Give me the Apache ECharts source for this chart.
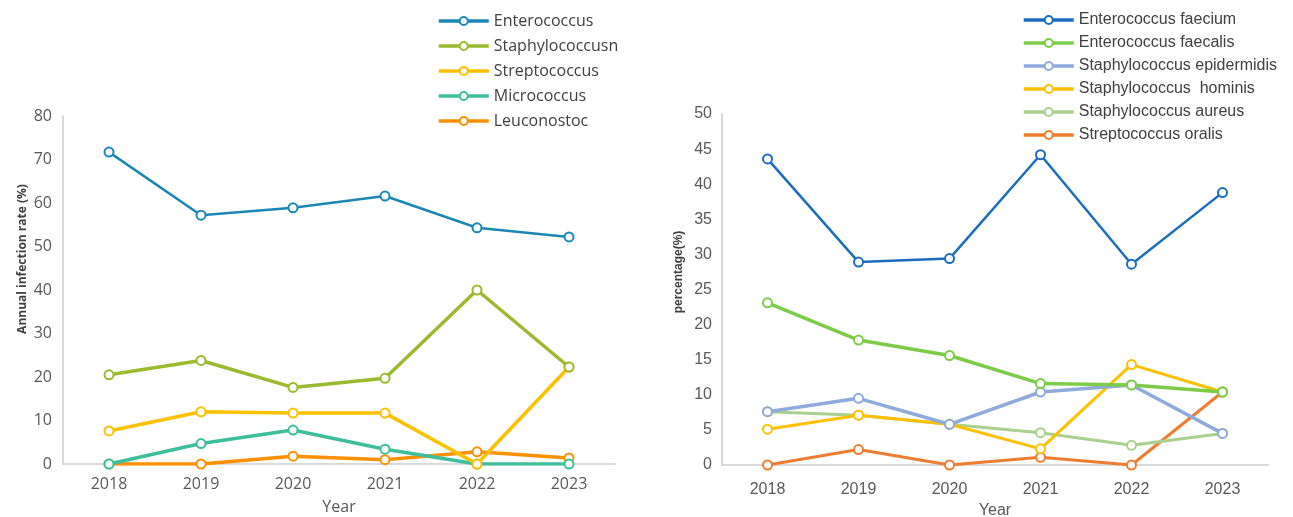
<!DOCTYPE html>
<html><head><meta charset="utf-8">
<script src="https://cdn.jsdelivr.net/npm/echarts@6/dist/echarts.min.js"></script>
<style>html,body{margin:0;padding:0;background:#fff}#c{width:1293px;height:517px}</style>
</head><body><div id="c"></div>
<script>
const years = ['2018','2019','2020','2021','2022','2023'];

const leftNames = ['Enterococcus','Staphylococcusn','Streptococcus','Micrococcus','Leuconostoc'];
const enterococcus   = [71.7, 57.2, 58.9, 61.6, 54.3, 52.2];
const staphylococcus = [20.5, 23.8, 17.6, 19.7, 40.0, 22.3];
const streptococcus  = [7.6, 12.0, 11.7, 11.7, 0.0, 22.3];
const micrococcus    = [0.0, 4.7, 7.8, 3.4, 0.0, 0.0];
const leuconostoc    = [0.0, 0.0, 1.8, 1.0, 2.8, 1.4];

const rightNames = ['Enterococcus faecium','Enterococcus faecalis','Staphylococcus epidermidis','Staphylococcus  hominis','Staphylococcus aureus','Streptococcus oralis'];
const eFaecium     = [43.6, 28.9, 29.4, 44.2, 28.6, 38.8];
const eFaecalis    = [23.1, 17.8, 15.6, 11.6, 11.4, 10.4];
const sEpidermidis = [7.6, 9.5, 5.8, 10.4, 11.4, 4.5];
const sHominis     = [5.1, 7.1, 5.8, 2.3, 14.3, 10.4];
const sAureus      = [7.6, 7.1, 5.8, 4.6, 2.8, 4.5];
const sOralis      = [0.0, 2.2, 0.0, 1.1, 0.0, 10.4];

const leftTicks = {min:0, max:80, interval:10};
const rightTicks = {min:0, max:50, interval:5};

const leftColors = ['#1b87b5','#9cba2d','#ffc000','#3dbf9c','#ff9000'];
const rightColors = ['#1c6cc0','#7dcc48','#8faadc','#ffc000','#a9d18e','#ed7d31'];

const leftData = [enterococcus, staphylococcus, streptococcus, micrococcus, leuconostoc];
const rightData = [eFaecium, eFaecalis, sEpidermidis, sHominis, sAureus, sOralis];

const fL = 'Open Sans, Noto Sans, sans-serif';
const fR = 'Liberation Sans, Arial, sans-serif';

function mk(names, data, colors, idx, widths){
  return names.map((n,i)=>({
    name:n, type:'line', xAxisIndex:idx, yAxisIndex:idx, data:data[i],
    symbol:'emptyCircle', symbolSize:9, z: 10 - i,
    lineStyle:{color:colors[i], width:widths[i]},
    itemStyle:{color:colors[i], borderColor:colors[i], borderWidth:2},
    emphasis:{disabled:true}
  }));
}

const chart = echarts.init(document.getElementById('c'));
chart.setOption({
  animation:false,
  grid:[
    {left:63, top:116, width:552, height:348, outerBoundsMode:'none', containLabel:false},
    {left:722, top:114, width:546, height:351, outerBoundsMode:'none', containLabel:false}
  ],
  legend:[
    {data:leftNames, orient:'vertical', left:432, top:8, itemWidth:50, itemHeight:10, itemGap:9,
     lineStyle:{width:3.5}, itemStyle:{borderWidth:2},
     textStyle:{fontFamily:fL, fontSize:16, color:'#404040'}},
    {data:rightNames, orient:'vertical', left:1017, top:7, itemWidth:50, itemHeight:10, itemGap:7,
     lineStyle:{width:3.5}, itemStyle:{borderWidth:2},
     textStyle:{fontFamily:fR, fontSize:16, color:'#404040'}}
  ],
  xAxis:[
    {type:'category', gridIndex:0, data:years, boundaryGap:true,
     axisLine:{lineStyle:{color:'#d9d9d9', width:2}}, axisTick:{show:false},
     axisLabel:{fontFamily:fL, fontSize:16, color:'#595959', margin:12},
     name:'Year', nameLocation:'middle', nameGap:35, nameTextStyle:{fontFamily:fL, fontSize:16, color:'#595959'}},
    {type:'category', gridIndex:1, data:years, boundaryGap:true,
     axisLine:{lineStyle:{color:'#d9d9d9', width:2}}, axisTick:{show:false},
     axisLabel:{fontFamily:fR, fontSize:16, color:'#595959', margin:17},
     name:'Year', nameLocation:'middle', nameGap:38, nameTextStyle:{fontFamily:fR, fontSize:16, color:'#595959'}}
  ],
  yAxis:[
    {type:'value', gridIndex:0, min:leftTicks.min, max:leftTicks.max, interval:leftTicks.interval,
     splitLine:{show:false}, axisLine:{show:true, lineStyle:{color:'#d9d9d9', width:2}}, axisTick:{show:false},
     axisLabel:{fontFamily:fL, fontSize:16, color:'#595959', margin:11},
     name:'Annual infection rate (%)', nameLocation:'middle', nameGap:34,
     nameTextStyle:{fontFamily:fL, fontSize:12, fontWeight:'bold', color:'#404040', padding:[0,0,0,62]}},
    {type:'value', gridIndex:1, min:rightTicks.min, max:rightTicks.max, interval:rightTicks.interval,
     splitLine:{show:false}, axisLine:{show:true, lineStyle:{color:'#d9d9d9', width:2}}, axisTick:{show:false},
     axisLabel:{fontFamily:fR, fontSize:16, color:'#595959', margin:10},
     name:'percentage(%)', nameLocation:'middle', nameGap:37,
     nameTextStyle:{fontFamily:fR, fontSize:12, fontWeight:'bold', color:'#404040', padding:[0,0,0,35]}}
  ],
  series:[].concat(
    mk(leftNames, leftData, leftColors, 0, [2.5,3.5,3.5,3.5,3.5]),
    mk(rightNames, rightData, rightColors, 1, [2.5,3.5,3.5,3,3,3])
  )
});
</script></body></html>
